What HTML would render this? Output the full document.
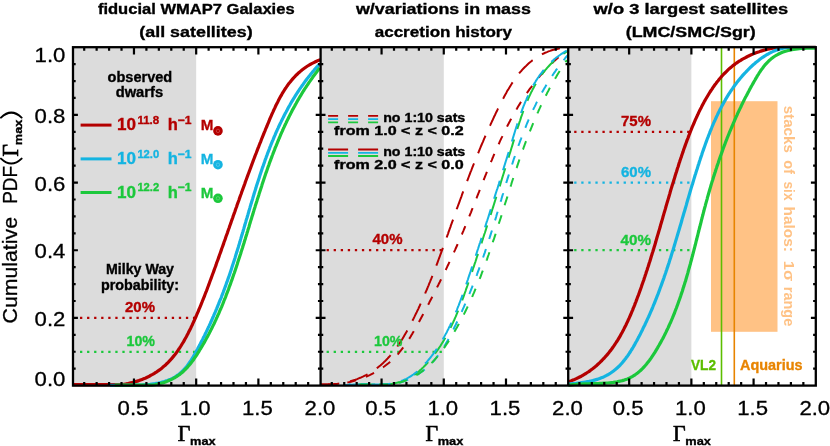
<!DOCTYPE html>
<html><head><meta charset="utf-8"><title>Cumulative PDF</title>
<style>html,body{margin:0;padding:0;background:#fff;}body{width:830px;height:446px;overflow:hidden;}svg{display:block;will-change:transform;}text{font-family:"Liberation Sans", sans-serif;}.b{font-weight:bold;}.s{font-family:"Liberation Serif", serif;}</style></head><body>
<svg width="830" height="446" viewBox="0 0 830 446">
<rect width="830" height="446" fill="#fff"/>
<defs>
<clipPath id="c0"><rect x="73.0" y="45.7" width="247.6" height="341.40000000000003"/></clipPath>
<clipPath id="c1"><rect x="320.6" y="45.7" width="247.6" height="341.40000000000003"/></clipPath>
<clipPath id="c2"><rect x="568.2" y="45.7" width="247.6" height="341.40000000000003"/></clipPath>
</defs>
<rect x="73.0" y="47.2" width="123.18" height="338.40000000000003" fill="#dcdcdc"/>
<rect x="320.6" y="47.2" width="123.18" height="338.40000000000003" fill="#dcdcdc"/>
<rect x="568.2" y="47.2" width="123.18" height="338.40000000000003" fill="#dcdcdc"/>
<rect x="711.0" y="101.2" width="66.5" height="230.60000000000002" fill="#ffc285"/>
<line x1="80.0" y1="317.9" x2="196.2" y2="317.9" stroke="#b40000" stroke-width="2.3" stroke-dasharray="2.3 4.76"/>
<line x1="80.0" y1="351.8" x2="196.2" y2="351.8" stroke="#1cc83c" stroke-width="2.3" stroke-dasharray="2.3 4.76"/>
<line x1="326.6" y1="250.2" x2="443.8" y2="250.2" stroke="#b40000" stroke-width="2.3" stroke-dasharray="2.3 4.76"/>
<line x1="326.6" y1="351.8" x2="443.8" y2="351.8" stroke="#1cc83c" stroke-width="2.3" stroke-dasharray="2.3 4.76"/>
<line x1="574.2" y1="131.8" x2="691.4" y2="131.8" stroke="#b40000" stroke-width="2.3" stroke-dasharray="2.3 4.76"/>
<line x1="574.2" y1="182.6" x2="691.4" y2="182.6" stroke="#14b4e1" stroke-width="2.3" stroke-dasharray="2.3 4.76"/>
<line x1="574.2" y1="250.2" x2="691.4" y2="250.2" stroke="#1cc83c" stroke-width="2.3" stroke-dasharray="2.3 4.76"/>
<path d="M72.8,384.7L74.5,384.7L76.2,384.7L77.9,384.7L79.6,384.7L81.4,384.7L83.1,384.7L84.9,384.7L86.6,384.7L88.4,384.7L90.2,384.7L91.9,384.7L93.7,384.7L95.5,384.7L97.3,384.7L99.1,384.7L100.9,384.7L102.7,384.7L104.4,384.7L106.2,384.7L108.0,384.7L109.8,384.7L111.6,384.7L113.4,384.7L115.1,384.7L116.9,384.7L118.7,384.7L120.4,384.7L122.1,384.6L123.9,384.3L125.6,384.0L127.3,383.7L129.0,383.3L130.7,382.9L132.4,382.5L134.0,382.1L135.7,381.6L137.3,381.1L138.9,380.6L140.5,380.0L142.1,379.4L143.6,378.8L145.2,378.2L146.7,377.5L148.2,376.8L149.7,376.0L151.1,375.2L152.6,374.4L154.0,373.6L155.4,372.7L156.8,371.8L158.1,370.9L159.5,369.9L160.8,368.9L162.1,367.9L163.3,366.8L164.6,365.8L165.8,364.7L167.0,363.5L168.2,362.4L169.3,361.2L170.5,359.9L171.6,358.7L172.6,357.4L173.7,356.1L174.8,354.8L175.8,353.5L176.8,352.1L177.8,350.7L178.7,349.3L179.7,347.9L180.6,346.5L181.5,345.0L182.4,343.5L183.3,342.1L184.2,340.6L185.0,339.0L185.9,337.5L186.7,336.0L187.5,334.4L188.3,332.9L189.1,331.3L189.9,329.7L190.7,328.2L191.4,326.6L192.2,325.0L192.9,323.4L193.6,321.8L194.4,320.2L195.1,318.6L195.8,317.0L196.5,315.4L197.2,313.7L197.9,312.1L198.6,310.5L199.2,308.9L199.9,307.3L200.6,305.7L201.2,304.1L201.9,302.4L202.5,300.8L203.2,299.2L203.8,297.6L204.5,296.0L205.1,294.3L205.7,292.7L206.4,291.1L207.0,289.5L207.6,287.8L208.2,286.2L208.8,284.6L209.4,283.0L210.0,281.3L210.6,279.7L211.2,278.1L211.8,276.5L212.4,274.8L213.0,273.2L213.6,271.6L214.2,269.9L214.8,268.3L215.4,266.7L216.0,265.1L216.5,263.4L217.1,261.8L217.7,260.2L218.3,258.6L218.9,256.9L219.4,255.3L220.0,253.7L220.6,252.1L221.2,250.4L221.7,248.8L222.3,247.2L222.9,245.6L223.5,243.9L224.0,242.3L224.6,240.7L225.2,239.1L225.7,237.5L226.3,235.8L226.9,234.2L227.5,232.6L228.0,231.0L228.6,229.3L229.2,227.7L229.7,226.1L230.3,224.5L230.9,222.9L231.4,221.2L232.0,219.6L232.6,218.0L233.1,216.4L233.7,214.8L234.3,213.1L234.9,211.5L235.4,209.9L236.0,208.3L236.6,206.7L237.1,205.0L237.7,203.4L238.3,201.8L238.9,200.2L239.4,198.6L240.0,196.9L240.6,195.3L241.2,193.7L241.7,192.1L242.3,190.5L242.9,188.9L243.5,187.2L244.1,185.6L244.7,184.0L245.2,182.4L245.8,180.8L246.4,179.2L247.0,177.5L247.6,175.9L248.2,174.3L248.8,172.7L249.4,171.1L250.0,169.5L250.6,167.9L251.2,166.2L251.8,164.6L252.4,163.0L253.0,161.4L253.6,159.8L254.2,158.2L254.8,156.6L255.4,155.0L256.1,153.3L256.7,151.7L257.3,150.1L257.9,148.5L258.6,146.9L259.2,145.3L259.8,143.7L260.5,142.1L261.1,140.5L261.7,138.8L262.4,137.2L263.0,135.6L263.7,134.0L264.3,132.4L265.0,130.8L265.6,129.2L266.3,127.6L267.0,126.0L267.6,124.4L268.3,122.8L269.0,121.2L269.6,119.5L270.3,117.9L271.0,116.3L271.7,114.7L272.4,113.1L273.1,111.6L273.8,110.0L274.6,108.4L275.3,106.8L276.0,105.3L276.8,103.7L277.6,102.2L278.4,100.6L279.2,99.1L280.0,97.6L280.8,96.1L281.7,94.6L282.5,93.1L283.4,91.7L284.3,90.2L285.2,88.8L286.2,87.4L287.1,86.0L288.1,84.6L289.1,83.3L290.2,82.0L291.2,80.7L292.3,79.4L293.4,78.1L294.6,76.9L295.7,75.7L296.9,74.5L298.1,73.3L299.4,72.2L300.7,71.1L302.0,70.0L303.3,69.0L304.7,68.0L306.1,67.0L307.6,66.0L309.1,65.1L310.6,64.2L312.2,63.4L313.8,62.6L315.4,61.8L317.1,61.0L318.8,60.3L320.6,59.7" fill="none" stroke="#b40000" stroke-width="3.2" stroke-linejoin="round" clip-path="url(#c0)"/>
<path d="M110.0,385.3L111.3,385.3L112.7,385.3L114.2,385.3L115.6,385.3L117.1,385.3L118.6,385.3L120.1,385.3L121.7,385.3L123.3,385.3L124.9,385.3L126.5,385.3L128.1,385.3L129.8,385.3L131.4,385.3L133.1,385.3L134.8,385.3L136.5,385.2L138.2,385.2L139.9,385.1L141.6,385.0L143.3,384.9L145.0,384.8L146.6,384.7L148.3,384.5L150.0,384.4L151.7,384.1L153.4,383.9L155.0,383.7L156.7,383.4L158.3,383.1L159.9,382.7L161.5,382.3L163.1,381.9L164.6,381.4L166.2,380.9L167.7,380.4L169.1,379.8L170.6,379.2L172.0,378.6L173.4,377.8L174.7,377.1L176.1,376.3L177.3,375.4L178.6,374.5L179.8,373.6L181.0,372.6L182.1,371.5L183.2,370.4L184.2,369.3L185.3,368.1L186.3,366.9L187.3,365.7L188.2,364.4L189.1,363.1L190.1,361.8L190.9,360.5L191.8,359.1L192.7,357.7L193.5,356.3L194.3,354.9L195.1,353.5L195.9,352.1L196.7,350.6L197.5,349.2L198.2,347.7L199.0,346.3L199.8,344.9L200.5,343.4L201.2,342.0L202.0,340.5L202.7,339.1L203.4,337.6L204.2,336.2L204.9,334.8L205.6,333.3L206.3,331.9L207.0,330.4L207.7,329.0L208.3,327.5L209.0,326.1L209.7,324.6L210.4,323.2L211.0,321.7L211.7,320.3L212.3,318.8L213.0,317.3L213.6,315.9L214.2,314.4L214.9,313.0L215.5,311.5L216.1,310.0L216.7,308.6L217.3,307.1L217.9,305.6L218.5,304.2L219.1,302.7L219.7,301.2L220.3,299.7L220.9,298.3L221.5,296.8L222.0,295.3L222.6,293.8L223.2,292.3L223.7,290.9L224.3,289.4L224.8,287.9L225.4,286.4L225.9,284.9L226.4,283.4L227.0,281.9L227.5,280.4L228.0,278.9L228.6,277.4L229.1,275.9L229.6,274.4L230.1,272.9L230.6,271.4L231.1,269.9L231.6,268.4L232.1,266.8L232.6,265.3L233.1,263.8L233.6,262.3L234.1,260.7L234.6,259.2L235.1,257.7L235.5,256.2L236.0,254.6L236.5,253.1L237.0,251.6L237.4,250.0L237.9,248.5L238.4,246.9L238.8,245.4L239.3,243.9L239.8,242.3L240.2,240.8L240.7,239.2L241.1,237.7L241.6,236.1L242.1,234.6L242.5,233.0L243.0,231.5L243.4,229.9L243.9,228.4L244.3,226.8L244.8,225.3L245.2,223.7L245.7,222.2L246.1,220.6L246.6,219.1L247.1,217.5L247.5,216.0L248.0,214.4L248.4,212.9L248.9,211.3L249.3,209.8L249.8,208.2L250.2,206.7L250.7,205.1L251.2,203.6L251.6,202.0L252.1,200.5L252.6,198.9L253.0,197.4L253.5,195.8L254.0,194.3L254.4,192.7L254.9,191.2L255.4,189.7L255.9,188.1L256.3,186.6L256.8,185.0L257.3,183.5L257.8,182.0L258.3,180.4L258.8,178.9L259.3,177.4L259.8,175.8L260.3,174.3L260.8,172.8L261.3,171.3L261.8,169.7L262.3,168.2L262.9,166.7L263.4,165.2L263.9,163.7L264.5,162.1L265.0,160.6L265.5,159.1L266.1,157.6L266.6,156.1L267.2,154.6L267.7,153.1L268.3,151.6L268.9,150.1L269.5,148.6L270.0,147.1L270.6,145.7L271.2,144.2L271.8,142.7L272.4,141.2L273.0,139.8L273.6,138.3L274.2,136.8L274.9,135.4L275.5,133.9L276.1,132.4L276.8,131.0L277.4,129.5L278.1,128.1L278.7,126.7L279.4,125.2L280.1,123.8L280.8,122.4L281.5,120.9L282.2,119.5L282.9,118.1L283.6,116.7L284.3,115.3L285.0,113.9L285.8,112.5L286.5,111.1L287.3,109.7L288.0,108.3L288.8,106.9L289.6,105.5L290.3,104.2L291.1,102.8L291.9,101.4L292.7,100.1L293.6,98.7L294.4,97.4L295.2,96.0L296.1,94.7L296.9,93.3L297.8,92.0L298.7,90.7L299.5,89.4L300.4,88.1L301.3,86.8L302.2,85.5L303.2,84.2L304.1,82.9L305.0,81.6L306.0,80.3L306.9,79.0L307.9,77.8L308.9,76.5L309.9,75.3L310.9,74.0L311.9,72.8L312.9,71.5L314.0,70.3L315.0,69.1L316.1,67.9L317.2,66.7L318.2,65.5L319.3,64.3" fill="none" stroke="#14b4e1" stroke-width="3.2" stroke-linejoin="round" clip-path="url(#c0)"/>
<path d="M114.8,385.1L116.4,385.1L118.0,385.1L119.5,385.1L121.1,385.1L122.7,385.1L124.3,385.1L125.9,385.1L127.5,385.1L129.2,385.1L130.8,385.1L132.4,385.1L134.0,385.1L135.7,385.1L137.3,385.1L138.9,385.1L140.5,385.1L142.2,385.1L143.8,385.1L145.4,385.1L147.0,385.1L148.6,385.1L150.2,385.1L151.8,385.1L153.3,385.0L154.9,384.7L156.5,384.4L158.0,384.1L159.5,383.7L161.0,383.3L162.5,382.9L164.0,382.4L165.5,381.9L166.9,381.4L168.3,380.8L169.7,380.2L171.1,379.6L172.5,378.9L173.8,378.2L175.1,377.5L176.4,376.7L177.6,375.8L178.9,375.0L180.1,374.1L181.2,373.1L182.4,372.2L183.5,371.2L184.6,370.1L185.7,369.0L186.8,367.9L187.8,366.8L188.8,365.6L189.8,364.5L190.8,363.2L191.7,362.0L192.7,360.8L193.6,359.5L194.5,358.2L195.4,356.9L196.3,355.6L197.1,354.3L198.0,352.9L198.8,351.6L199.6,350.2L200.5,348.9L201.3,347.5L202.1,346.2L202.9,344.8L203.7,343.4L204.5,342.1L205.2,340.7L206.0,339.3L206.7,337.9L207.5,336.6L208.2,335.2L209.0,333.8L209.7,332.4L210.4,331.0L211.1,329.6L211.8,328.2L212.5,326.8L213.2,325.4L213.9,324.0L214.6,322.5L215.2,321.1L215.9,319.7L216.5,318.3L217.2,316.9L217.8,315.4L218.5,314.0L219.1,312.6L219.7,311.1L220.3,309.7L221.0,308.2L221.6,306.8L222.2,305.3L222.8,303.9L223.4,302.4L223.9,301.0L224.5,299.5L225.1,298.1L225.7,296.6L226.2,295.2L226.8,293.7L227.4,292.2L227.9,290.8L228.5,289.3L229.0,287.8L229.5,286.3L230.1,284.9L230.6,283.4L231.1,281.9L231.7,280.4L232.2,278.9L232.7,277.5L233.2,276.0L233.7,274.5L234.3,273.0L234.8,271.5L235.3,270.0L235.8,268.5L236.3,267.0L236.8,265.5L237.3,264.0L237.7,262.5L238.2,261.0L238.7,259.5L239.2,258.0L239.7,256.5L240.2,255.0L240.7,253.5L241.1,252.0L241.6,250.5L242.1,249.0L242.6,247.5L243.0,246.0L243.5,244.5L244.0,243.0L244.4,241.5L244.9,240.0L245.4,238.4L245.8,236.9L246.3,235.4L246.8,233.9L247.2,232.4L247.7,230.9L248.1,229.4L248.6,227.9L249.1,226.4L249.5,224.8L250.0,223.3L250.4,221.8L250.9,220.3L251.4,218.8L251.8,217.3L252.3,215.8L252.8,214.3L253.2,212.8L253.7,211.2L254.1,209.7L254.6,208.2L255.1,206.7L255.5,205.2L256.0,203.7L256.5,202.2L257.0,200.7L257.4,199.2L257.9,197.7L258.4,196.2L258.9,194.7L259.3,193.2L259.8,191.7L260.3,190.2L260.8,188.7L261.3,187.2L261.8,185.7L262.2,184.2L262.7,182.7L263.2,181.2L263.7,179.7L264.2,178.2L264.7,176.7L265.2,175.2L265.7,173.7L266.3,172.2L266.8,170.7L267.3,169.3L267.8,167.8L268.3,166.3L268.9,164.8L269.4,163.3L269.9,161.9L270.5,160.4L271.0,158.9L271.6,157.5L272.1,156.0L272.7,154.5L273.2,153.1L273.8,151.6L274.4,150.1L274.9,148.7L275.5,147.2L276.1,145.8L276.7,144.3L277.3,142.9L277.9,141.4L278.5,140.0L279.1,138.5L279.7,137.1L280.3,135.7L280.9,134.2L281.5,132.8L282.2,131.4L282.8,130.0L283.4,128.5L284.1,127.1L284.7,125.7L285.4,124.3L286.1,122.9L286.7,121.5L287.4,120.1L288.1,118.7L288.8,117.3L289.5,115.9L290.2,114.5L290.9,113.1L291.6,111.7L292.3,110.3L293.1,108.9L293.8,107.6L294.6,106.2L295.3,104.8L296.1,103.5L296.8,102.1L297.6,100.7L298.4,99.4L299.2,98.0L300.0,96.7L300.8,95.4L301.6,94.0L302.4,92.7L303.2,91.3L304.1,90.0L304.9,88.7L305.8,87.4L306.6,86.1L307.5,84.8L308.4,83.5L309.3,82.1L310.2,80.9L311.1,79.6L312.0,78.3L312.9,77.0L313.8,75.7L314.8,74.4L315.7,73.2L316.7,71.9L317.7,70.6L318.6,69.4L319.6,68.1" fill="none" stroke="#1cc83c" stroke-width="3.2" stroke-linejoin="round" clip-path="url(#c0)"/>
<path d="M319.6,384.3L321.6,384.3L323.5,384.3L325.4,384.3L327.2,384.3L329.1,384.3L331.0,384.3L332.8,384.3L334.7,384.1L336.5,384.0L338.3,383.7L340.1,383.5L341.8,383.2L343.6,382.9L345.3,382.5L347.1,382.1L348.8,381.7L350.5,381.2L352.1,380.7L353.8,380.2L355.4,379.7L357.1,379.1L358.7,378.4L360.3,377.8L361.8,377.1L363.4,376.4L364.9,375.6L366.4,374.9L367.9,374.1L369.4,373.2L370.8,372.4L372.2,371.5L373.6,370.5L375.0,369.6L376.4,368.6L377.7,367.6L379.0,366.5L380.3,365.5L381.5,364.4L382.8,363.3L384.0,362.1L385.2,361.0L386.4,359.8L387.5,358.6L388.7,357.3L389.8,356.1L390.9,354.8L392.0,353.5L393.0,352.2L394.1,350.9L395.1,349.5L396.1,348.2L397.1,346.8L398.1,345.4L399.0,344.0L400.0,342.6L400.9,341.1L401.9,339.7L402.8,338.2L403.7,336.7L404.5,335.3L405.4,333.8L406.3,332.3L407.1,330.8L408.0,329.2L408.8,327.7L409.6,326.2L410.4,324.7L411.2,323.1L412.0,321.6L412.8,320.0L413.6,318.5L414.4,316.9L415.1,315.4L415.9,313.8L416.7,312.2L417.4,310.7L418.2,309.1L418.9,307.5L419.6,306.0L420.3,304.4L421.1,302.8L421.8,301.2L422.5,299.7L423.2,298.1L423.9,296.5L424.6,294.9L425.2,293.3L425.9,291.7L426.6,290.1L427.3,288.5L427.9,286.9L428.6,285.3L429.2,283.7L429.9,282.1L430.5,280.5L431.2,278.9L431.8,277.3L432.5,275.7L433.1,274.1L433.7,272.5L434.4,270.9L435.0,269.2L435.6,267.6L436.2,266.0L436.8,264.4L437.4,262.8L438.0,261.2L438.6,259.5L439.2,257.9L439.8,256.3L440.4,254.7L441.0,253.1L441.6,251.4L442.2,249.8L442.8,248.2L443.4,246.6L444.0,244.9L444.6,243.3L445.2,241.7L445.7,240.1L446.3,238.4L446.9,236.8L447.5,235.2L448.1,233.6L448.6,231.9L449.2,230.3L449.8,228.7L450.4,227.1L450.9,225.4L451.5,223.8L452.1,222.2L452.7,220.6L453.3,218.9L453.8,217.3L454.4,215.7L455.0,214.1L455.6,212.5L456.2,210.8L456.7,209.2L457.3,207.6L457.9,206.0L458.5,204.4L459.1,202.8L459.7,201.1L460.3,199.5L460.9,197.9L461.5,196.3L462.0,194.7L462.6,193.1L463.2,191.5L463.8,189.8L464.4,188.2L465.0,186.6L465.6,185.0L466.2,183.4L466.9,181.8L467.5,180.2L468.1,178.6L468.7,177.0L469.3,175.4L469.9,173.8L470.5,172.2L471.2,170.6L471.8,169.0L472.4,167.4L473.0,165.8L473.7,164.2L474.3,162.6L475.0,161.0L475.6,159.4L476.2,157.8L476.9,156.2L477.5,154.6L478.2,153.0L478.9,151.4L479.5,149.8L480.2,148.2L480.8,146.6L481.5,145.0L482.2,143.4L482.9,141.8L483.5,140.3L484.2,138.7L484.9,137.1L485.6,135.5L486.3,133.9L487.0,132.3L487.7,130.7L488.4,129.2L489.1,127.6L489.8,126.0L490.6,124.4L491.3,122.8L492.0,121.3L492.8,119.7L493.5,118.1L494.2,116.5L495.0,115.0L495.7,113.4L496.5,111.8L497.3,110.2L498.0,108.7L498.8,107.1L499.6,105.5L500.4,104.0L501.1,102.4L501.9,100.9L502.8,99.3L503.6,97.8L504.4,96.2L505.2,94.7L506.1,93.2L506.9,91.6L507.8,90.1L508.7,88.7L509.6,87.2L510.5,85.7L511.4,84.3L512.3,82.8L513.3,81.4L514.2,80.0L515.2,78.6L516.2,77.2L517.2,75.9L518.3,74.5L519.3,73.2L520.4,71.9L521.5,70.7L522.6,69.4L523.7,68.2L524.9,67.0L526.1,65.9L527.3,64.7L528.5,63.6L529.7,62.5L531.0,61.5L532.3,60.4L533.6,59.5L535.0,58.5L536.4,57.6L537.8,56.7L539.2,55.8L540.7,55.0L542.2,54.2L543.7,53.5L545.3,52.7L546.9,52.1L548.5,51.4L550.1,50.9L551.8,50.3L553.5,49.8L555.3,49.3L557.1,48.9L558.9,48.5L560.8,48.2L562.7,47.9L564.6,47.7L566.6,47.5L568.6,47.4" fill="none" stroke="#b40000" stroke-width="2.0" stroke-linejoin="round" stroke-dasharray="19 11" stroke-dashoffset="29.3" clip-path="url(#c1)"/>
<path d="M320.1,384.6L321.9,384.6L323.6,384.6L325.3,384.6L327.1,384.6L328.8,384.6L330.5,384.6L332.2,384.6L334.0,384.4L335.7,384.3L337.4,384.1L339.1,383.9L340.8,383.7L342.5,383.4L344.2,383.1L345.9,382.8L347.6,382.5L349.3,382.1L350.9,381.7L352.6,381.3L354.3,380.8L355.9,380.3L357.5,379.8L359.1,379.3L360.7,378.7L362.3,378.2L363.9,377.5L365.5,376.9L367.0,376.3L368.6,375.6L370.1,374.9L371.6,374.1L373.1,373.3L374.6,372.6L376.1,371.7L377.5,370.9L378.9,370.0L380.4,369.1L381.7,368.2L383.1,367.3L384.5,366.3L385.8,365.3L387.1,364.3L388.4,363.3L389.7,362.2L390.9,361.1L392.1,360.0L393.3,358.8L394.5,357.7L395.6,356.5L396.8,355.3L397.9,354.1L399.0,352.8L400.0,351.5L401.1,350.2L402.1,348.9L403.1,347.6L404.1,346.3L405.1,344.9L406.1,343.5L407.0,342.2L407.9,340.8L408.9,339.3L409.8,337.9L410.7,336.5L411.5,335.0L412.4,333.6L413.3,332.1L414.1,330.7L415.0,329.2L415.8,327.7L416.6,326.2L417.5,324.7L418.3,323.2L419.1,321.7L419.9,320.2L420.7,318.7L421.5,317.2L422.3,315.7L423.1,314.3L423.9,312.8L424.7,311.3L425.5,309.8L426.3,308.3L427.1,306.8L427.9,305.3L428.7,303.8L429.4,302.3L430.2,300.8L431.0,299.3L431.8,297.8L432.5,296.3L433.3,294.8L434.1,293.3L434.8,291.8L435.6,290.3L436.4,288.8L437.1,287.3L437.9,285.8L438.6,284.3L439.4,282.8L440.1,281.3L440.9,279.8L441.6,278.3L442.3,276.8L443.1,275.3L443.8,273.8L444.5,272.3L445.3,270.8L446.0,269.3L446.7,267.8L447.4,266.3L448.2,264.8L448.9,263.2L449.6,261.7L450.3,260.2L451.0,258.7L451.7,257.2L452.4,255.7L453.1,254.1L453.8,252.6L454.5,251.1L455.2,249.6L455.9,248.0L456.6,246.5L457.3,245.0L457.9,243.4L458.6,241.9L459.3,240.4L460.0,238.8L460.6,237.3L461.3,235.7L462.0,234.2L462.6,232.6L463.3,231.1L463.9,229.5L464.6,228.0L465.2,226.4L465.9,224.8L466.5,223.3L467.2,221.7L467.8,220.2L468.4,218.6L469.1,217.0L469.7,215.4L470.3,213.9L471.0,212.3L471.6,210.7L472.2,209.1L472.9,207.5L473.5,206.0L474.1,204.4L474.7,202.8L475.3,201.2L476.0,199.6L476.6,198.0L477.2,196.4L477.8,194.9L478.4,193.3L479.1,191.7L479.7,190.1L480.3,188.5L480.9,186.9L481.6,185.3L482.2,183.7L482.8,182.2L483.4,180.6L484.1,179.0L484.7,177.4L485.3,175.8L486.0,174.2L486.6,172.7L487.2,171.1L487.9,169.5L488.5,167.9L489.2,166.4L489.8,164.8L490.5,163.2L491.1,161.6L491.8,160.1L492.4,158.5L493.1,156.9L493.7,155.4L494.4,153.8L495.1,152.3L495.8,150.7L496.4,149.2L497.1,147.6L497.8,146.1L498.5,144.5L499.2,143.0L499.9,141.4L500.6,139.9L501.3,138.4L502.1,136.9L502.8,135.3L503.5,133.8L504.2,132.3L505.0,130.8L505.7,129.3L506.5,127.8L507.2,126.3L508.0,124.8L508.8,123.3L509.6,121.8L510.3,120.3L511.1,118.9L511.9,117.4L512.7,115.9L513.5,114.5L514.4,113.0L515.2,111.6L516.0,110.1L516.9,108.7L517.7,107.3L518.6,105.8L519.5,104.4L520.3,103.0L521.2,101.6L522.1,100.2L523.0,98.8L523.9,97.4L524.8,96.0L525.8,94.7L526.7,93.3L527.7,91.9L528.6,90.6L529.6,89.2L530.6,87.9L531.6,86.6L532.6,85.2L533.6,83.9L534.6,82.6L535.6,81.3L536.7,80.0L537.7,78.7L538.8,77.5L539.8,76.2L540.9,74.9L542.0,73.7L543.1,72.4L544.3,71.2L545.4,70.0L546.5,68.8L547.7,67.5L548.9,66.3L550.1,65.2L551.2,64.0L552.5,62.8L553.7,61.6L554.9,60.5L556.2,59.3L557.4,58.2L558.7,57.1L560.0,56.0L561.3,54.9L562.6,53.8L563.9,52.7L565.3,51.6L566.6,50.5" fill="none" stroke="#b40000" stroke-width="2.0" stroke-linejoin="round" stroke-dasharray="9 10.5" stroke-dashoffset="11.6" clip-path="url(#c1)"/>
<path d="M346.1,385.3L347.6,385.1L349.1,385.0L350.7,384.8L352.3,384.7L353.9,384.7L355.5,384.6L357.2,384.6L358.8,384.6L360.5,384.6L362.2,384.6L364.0,384.6L365.7,384.6L367.5,384.6L369.2,384.6L371.0,384.6L372.8,384.6L374.5,384.6L376.3,384.6L378.1,384.6L379.9,384.6L381.6,384.6L383.4,384.5L385.1,384.4L386.9,384.3L388.6,384.1L390.4,383.9L392.1,383.7L393.8,383.4L395.4,383.1L397.1,382.7L398.7,382.3L400.3,381.9L401.9,381.4L403.5,380.8L405.0,380.2L406.5,379.5L408.0,378.8L409.4,378.0L410.8,377.2L412.2,376.3L413.6,375.4L414.9,374.5L416.2,373.5L417.5,372.5L418.8,371.4L420.0,370.3L421.3,369.2L422.5,368.1L423.7,366.9L424.8,365.7L426.0,364.5L427.1,363.3L428.2,362.1L429.3,360.8L430.4,359.5L431.4,358.3L432.5,357.0L433.5,355.7L434.5,354.3L435.5,353.0L436.5,351.7L437.4,350.3L438.4,348.9L439.3,347.5L440.2,346.2L441.1,344.7L442.0,343.3L442.9,341.9L443.7,340.5L444.6,339.0L445.4,337.6L446.2,336.1L447.0,334.6L447.8,333.2L448.6,331.7L449.3,330.2L450.1,328.7L450.8,327.2L451.6,325.6L452.3,324.1L453.0,322.6L453.7,321.0L454.4,319.5L455.1,317.9L455.8,316.4L456.4,314.8L457.1,313.2L457.7,311.7L458.4,310.1L459.0,308.5L459.6,306.9L460.3,305.3L460.9,303.7L461.5,302.1L462.1,300.5L462.7,298.9L463.3,297.3L463.9,295.7L464.4,294.1L465.0,292.5L465.6,290.8L466.1,289.2L466.7,287.6L467.3,286.0L467.8,284.4L468.4,282.7L468.9,281.1L469.5,279.5L470.0,277.9L470.5,276.3L471.1,274.7L471.6,273.0L472.2,271.4L472.7,269.8L473.2,268.2L473.8,266.6L474.3,265.0L474.8,263.4L475.4,261.8L475.9,260.2L476.4,258.6L476.9,257.0L477.5,255.4L478.0,253.8L478.5,252.2L479.0,250.6L479.6,249.0L480.1,247.4L480.6,245.8L481.1,244.2L481.7,242.6L482.2,241.0L482.7,239.4L483.2,237.8L483.7,236.2L484.2,234.6L484.8,233.0L485.3,231.5L485.8,229.9L486.3,228.3L486.8,226.7L487.3,225.1L487.8,223.5L488.3,221.9L488.9,220.3L489.4,218.8L489.9,217.2L490.4,215.6L490.9,214.0L491.4,212.4L491.9,210.8L492.4,209.2L492.9,207.6L493.4,206.1L493.9,204.5L494.4,202.9L494.9,201.3L495.4,199.7L495.9,198.1L496.4,196.5L496.9,194.9L497.4,193.3L497.9,191.7L498.4,190.2L499.0,188.6L499.5,187.0L500.0,185.4L500.5,183.8L500.9,182.2L501.4,180.6L501.9,179.0L502.4,177.4L502.9,175.8L503.4,174.2L503.9,172.6L504.4,171.0L504.9,169.4L505.4,167.7L505.9,166.1L506.4,164.5L506.9,162.9L507.4,161.3L507.9,159.7L508.4,158.1L508.9,156.5L509.4,154.8L509.9,153.2L510.4,151.6L510.9,150.0L511.4,148.3L511.9,146.7L512.4,145.1L512.9,143.4L513.4,141.8L513.9,140.2L514.4,138.5L514.9,136.9L515.4,135.2L515.9,133.6L516.4,132.0L516.9,130.3L517.4,128.7L517.9,127.0L518.5,125.4L519.0,123.8L519.5,122.1L520.1,120.5L520.6,118.9L521.1,117.2L521.7,115.6L522.3,114.0L522.8,112.4L523.4,110.8L524.0,109.2L524.6,107.6L525.2,106.0L525.9,104.4L526.5,102.9L527.1,101.3L527.8,99.8L528.5,98.2L529.2,96.7L529.9,95.2L530.6,93.6L531.3,92.1L532.1,90.7L532.8,89.2L533.6,87.7L534.4,86.3L535.2,84.8L536.0,83.4L536.9,82.0L537.7,80.6L538.6,79.2L539.5,77.8L540.5,76.5L541.4,75.1L542.4,73.8L543.4,72.5L544.4,71.2L545.4,69.9L546.5,68.7L547.6,67.4L548.7,66.2L549.8,65.0L551.0,63.8L552.1,62.7L553.3,61.6L554.6,60.4L555.8,59.3L557.1,58.3L558.4,57.2L559.8,56.2L561.2,55.2L562.6,54.2L564.0,53.3L565.5,52.3L567.0,51.4L568.5,50.6" fill="none" stroke="#1cc83c" stroke-width="2.0" stroke-linejoin="round" stroke-dasharray="19 11" stroke-dashoffset="19.9" clip-path="url(#c1)"/>
<path d="M344.5,385.3L346.0,385.1L347.5,385.0L349.1,384.8L350.7,384.7L352.3,384.7L353.9,384.6L355.6,384.6L357.2,384.6L358.9,384.6L360.6,384.6L362.4,384.6L364.1,384.6L365.9,384.6L367.6,384.6L369.4,384.6L371.2,384.6L372.9,384.6L374.7,384.6L376.5,384.6L378.3,384.6L380.0,384.6L381.8,384.5L383.5,384.4L385.3,384.3L387.0,384.1L388.8,383.9L390.5,383.7L392.2,383.4L393.8,383.1L395.5,382.7L397.1,382.3L398.7,381.9L400.3,381.4L401.9,380.8L403.4,380.2L404.9,379.5L406.4,378.8L407.8,378.0L409.2,377.2L410.6,376.3L412.0,375.4L413.3,374.5L414.6,373.5L415.9,372.5L417.2,371.4L418.4,370.3L419.7,369.2L420.9,368.1L422.1,366.9L423.2,365.7L424.4,364.5L425.5,363.3L426.6,362.1L427.7,360.8L428.8,359.5L429.8,358.3L430.9,357.0L431.9,355.7L432.9,354.3L433.9,353.0L434.9,351.7L435.8,350.3L436.8,348.9L437.7,347.5L438.6,346.2L439.5,344.7L440.4,343.3L441.3,341.9L442.1,340.5L443.0,339.0L443.8,337.6L444.6,336.1L445.4,334.6L446.2,333.2L447.0,331.7L447.7,330.2L448.5,328.7L449.2,327.2L450.0,325.6L450.7,324.1L451.4,322.6L452.1,321.0L452.8,319.5L453.5,317.9L454.2,316.4L454.8,314.8L455.5,313.2L456.1,311.7L456.8,310.1L457.4,308.5L458.0,306.9L458.7,305.3L459.3,303.7L459.9,302.1L460.5,300.5L461.1,298.9L461.7,297.3L462.3,295.7L462.8,294.1L463.4,292.5L464.0,290.8L464.5,289.2L465.1,287.6L465.7,286.0L466.2,284.4L466.8,282.7L467.3,281.1L467.9,279.5L468.4,277.9L468.9,276.3L469.5,274.7L470.0,273.0L470.6,271.4L471.1,269.8L471.6,268.2L472.2,266.6L472.7,265.0L473.2,263.4L473.8,261.8L474.3,260.2L474.8,258.6L475.3,257.0L475.9,255.4L476.4,253.8L476.9,252.2L477.4,250.6L478.0,249.0L478.5,247.4L479.0,245.8L479.5,244.2L480.1,242.6L480.6,241.0L481.1,239.4L481.6,237.8L482.1,236.2L482.6,234.6L483.2,233.0L483.7,231.5L484.2,229.9L484.7,228.3L485.2,226.7L485.7,225.1L486.2,223.5L486.7,221.9L487.3,220.3L487.8,218.8L488.3,217.2L488.8,215.6L489.3,214.0L489.8,212.4L490.3,210.8L490.8,209.2L491.3,207.6L491.8,206.1L492.3,204.5L492.8,202.9L493.3,201.3L493.8,199.7L494.3,198.1L494.8,196.5L495.3,194.9L495.8,193.3L496.3,191.7L496.8,190.2L497.4,188.6L497.9,187.0L498.4,185.4L498.9,183.8L499.3,182.2L499.8,180.6L500.3,179.0L500.8,177.4L501.3,175.8L501.8,174.2L502.3,172.6L502.8,171.0L503.3,169.4L503.8,167.7L504.3,166.1L504.8,164.5L505.3,162.9L505.8,161.3L506.3,159.7L506.8,158.1L507.3,156.5L507.8,154.8L508.3,153.2L508.8,151.6L509.3,150.0L509.8,148.3L510.3,146.7L510.8,145.1L511.3,143.4L511.8,141.8L512.3,140.2L512.8,138.5L513.3,136.9L513.8,135.2L514.3,133.6L514.8,132.0L515.3,130.3L515.8,128.7L516.3,127.0L516.9,125.4L517.4,123.8L517.9,122.1L518.5,120.5L519.0,118.9L519.5,117.2L520.1,115.6L520.7,114.0L521.2,112.4L521.8,110.8L522.4,109.2L523.0,107.6L523.6,106.0L524.3,104.4L524.9,102.9L525.5,101.3L526.2,99.8L526.9,98.2L527.6,96.7L528.3,95.2L529.0,93.6L529.7,92.1L530.5,90.7L531.2,89.2L532.0,87.7L532.8,86.3L533.6,84.8L534.4,83.4L535.3,82.0L536.1,80.6L537.0,79.2L537.9,77.8L538.9,76.5L539.8,75.1L540.8,73.8L541.8,72.5L542.8,71.2L543.8,69.9L544.9,68.7L546.0,67.4L547.1,66.2L548.2,65.0L549.4,63.8L550.5,62.7L551.7,61.6L553.0,60.4L554.2,59.3L555.5,58.3L556.8,57.2L558.2,56.2L559.6,55.2L561.0,54.2L562.4,53.3L563.9,52.3L565.4,51.4L566.9,50.6" fill="none" stroke="#14b4e1" stroke-width="2.0" stroke-linejoin="round" stroke-dasharray="19 11" stroke-dashoffset="3.0" clip-path="url(#c1)"/>
<path d="M349.2,383.9L351.0,383.9L352.8,383.9L354.6,383.9L356.4,383.9L358.2,383.9L359.9,383.9L361.7,383.9L363.5,383.9L365.2,383.9L367.0,383.9L368.7,383.9L370.5,383.9L372.2,383.9L374.0,383.9L375.7,383.9L377.4,383.9L379.1,383.9L380.8,383.9L382.5,383.9L384.1,383.9L385.8,383.9L387.4,383.9L389.1,383.9L390.7,383.9L392.3,383.9L393.9,383.9L395.5,383.9L397.1,383.4L398.7,383.0L400.2,382.5L401.8,382.0L403.3,381.5L404.8,380.9L406.3,380.3L407.8,379.7L409.2,379.1L410.7,378.4L412.1,377.7L413.5,376.9L414.9,376.2L416.2,375.4L417.6,374.6L418.9,373.7L420.2,372.8L421.5,371.9L422.8,371.0L424.0,370.0L425.3,369.1L426.5,368.0L427.7,367.0L428.8,365.9L430.0,364.8L431.1,363.7L432.2,362.6L433.2,361.4L434.3,360.2L435.3,359.0L436.3,357.7L437.3,356.5L438.3,355.2L439.3,353.9L440.2,352.5L441.1,351.2L442.0,349.8L442.9,348.5L443.8,347.1L444.7,345.7L445.5,344.2L446.3,342.8L447.2,341.4L448.0,339.9L448.8,338.5L449.6,337.0L450.3,335.5L451.1,334.0L451.9,332.5L452.6,331.0L453.4,329.5L454.1,328.0L454.8,326.5L455.6,325.0L456.3,323.5L457.0,322.0L457.7,320.5L458.4,319.0L459.1,317.5L459.8,316.0L460.5,314.5L461.2,313.0L461.9,311.5L462.5,309.9L463.2,308.4L463.9,306.9L464.5,305.4L465.2,303.9L465.9,302.4L466.5,300.8L467.1,299.3L467.8,297.8L468.4,296.3L469.0,294.7L469.7,293.2L470.3,291.7L470.9,290.2L471.5,288.6L472.1,287.1L472.7,285.6L473.3,284.0L473.9,282.5L474.5,281.0L475.1,279.4L475.7,277.9L476.3,276.4L476.9,274.8L477.4,273.3L478.0,271.7L478.6,270.2L479.1,268.7L479.7,267.1L480.2,265.6L480.8,264.0L481.3,262.5L481.9,260.9L482.4,259.4L483.0,257.8L483.5,256.3L484.0,254.7L484.6,253.1L485.1,251.6L485.6,250.0L486.1,248.5L486.7,246.9L487.2,245.4L487.7,243.8L488.2,242.2L488.7,240.7L489.2,239.1L489.7,237.5L490.2,235.9L490.7,234.4L491.2,232.8L491.7,231.2L492.2,229.7L492.7,228.1L493.2,226.5L493.7,224.9L494.1,223.3L494.6,221.8L495.1,220.2L495.6,218.6L496.1,217.0L496.5,215.4L497.0,213.8L497.5,212.3L498.0,210.7L498.4,209.1L498.9,207.5L499.4,205.9L499.9,204.3L500.3,202.7L500.8,201.1L501.3,199.6L501.7,198.0L502.2,196.4L502.7,194.8L503.2,193.2L503.6,191.6L504.1,190.0L504.6,188.4L505.1,186.9L505.6,185.3L506.0,183.7L506.5,182.1L507.0,180.5L507.5,178.9L508.0,177.4L508.5,175.8L509.0,174.2L509.5,172.6L510.0,171.0L510.5,169.5L511.0,167.9L511.5,166.3L512.0,164.7L512.5,163.2L513.0,161.6L513.5,160.0L514.0,158.5L514.6,156.9L515.1,155.3L515.6,153.8L516.2,152.2L516.7,150.7L517.2,149.1L517.8,147.6L518.3,146.0L518.9,144.5L519.5,142.9L520.0,141.4L520.6,139.8L521.2,138.3L521.7,136.7L522.3,135.2L522.9,133.7L523.5,132.2L524.1,130.6L524.7,129.1L525.4,127.6L526.0,126.1L526.6,124.5L527.2,123.0L527.9,121.5L528.5,120.0L529.2,118.5L529.8,117.0L530.5,115.5L531.2,114.0L531.9,112.6L532.5,111.1L533.2,109.6L533.9,108.1L534.7,106.6L535.4,105.2L536.1,103.7L536.8,102.2L537.6,100.8L538.3,99.3L539.1,97.9L539.9,96.4L540.6,95.0L541.4,93.6L542.2,92.1L543.0,90.7L543.8,89.3L544.6,87.9L545.5,86.5L546.3,85.1L547.2,83.7L548.0,82.3L548.9,80.9L549.8,79.5L550.7,78.1L551.6,76.7L552.5,75.4L553.4,74.0L554.3,72.6L555.3,71.3L556.2,69.9L557.2,68.6L558.2,67.2L559.1,65.9L560.1,64.6L561.2,63.3L562.2,61.9L563.2,60.6L564.3,59.3L565.3,58.0L566.4,56.7L567.5,55.5" fill="none" stroke="#14b4e1" stroke-width="2.0" stroke-linejoin="round" stroke-dasharray="9 10.5" stroke-dashoffset="7.8" clip-path="url(#c1)"/>
<path d="M354.3,384.4L356.1,384.4L357.8,384.4L359.5,384.4L361.3,384.4L363.0,384.4L364.7,384.4L366.5,384.4L368.2,384.4L369.9,384.4L371.6,384.4L373.3,384.4L375.0,384.4L376.6,384.4L378.3,384.4L380.0,384.4L381.6,384.4L383.3,384.4L384.9,384.4L386.5,384.4L388.2,384.4L389.8,384.4L391.4,384.4L392.9,384.3L394.5,384.0L396.1,383.6L397.6,383.2L399.1,382.7L400.6,382.3L402.1,381.8L403.6,381.2L405.1,380.7L406.6,380.1L408.0,379.5L409.4,378.8L410.8,378.2L412.2,377.5L413.6,376.7L415.0,376.0L416.3,375.2L417.6,374.4L418.9,373.6L420.2,372.7L421.5,371.8L422.7,370.9L423.9,369.9L425.1,368.9L426.3,367.9L427.5,366.9L428.6,365.9L429.8,364.8L430.9,363.7L432.0,362.6L433.1,361.5L434.2,360.3L435.2,359.1L436.3,357.9L437.3,356.7L438.3,355.5L439.3,354.3L440.3,353.0L441.2,351.8L442.2,350.5L443.2,349.2L444.1,347.9L445.0,346.6L445.9,345.2L446.8,343.9L447.7,342.6L448.6,341.2L449.5,339.8L450.3,338.5L451.2,337.1L452.0,335.7L452.9,334.3L453.7,333.0L454.5,331.6L455.3,330.2L456.1,328.8L456.9,327.4L457.7,326.0L458.5,324.6L459.3,323.1L460.0,321.7L460.8,320.3L461.6,318.9L462.3,317.4L463.0,316.0L463.8,314.6L464.5,313.1L465.2,311.7L465.9,310.3L466.6,308.8L467.3,307.4L468.0,305.9L468.7,304.4L469.4,303.0L470.1,301.5L470.7,300.1L471.4,298.6L472.1,297.1L472.7,295.6L473.3,294.2L474.0,292.7L474.6,291.2L475.2,289.7L475.9,288.2L476.5,286.7L477.1,285.2L477.7,283.8L478.3,282.3L478.9,280.8L479.5,279.3L480.1,277.8L480.7,276.3L481.3,274.7L481.8,273.2L482.4,271.7L483.0,270.2L483.5,268.7L484.1,267.2L484.7,265.7L485.2,264.2L485.8,262.6L486.3,261.1L486.9,259.6L487.4,258.1L487.9,256.5L488.5,255.0L489.0,253.5L489.5,252.0L490.1,250.4L490.6,248.9L491.1,247.4L491.6,245.8L492.1,244.3L492.6,242.8L493.1,241.2L493.7,239.7L494.2,238.2L494.7,236.6L495.2,235.1L495.7,233.6L496.2,232.0L496.7,230.5L497.2,228.9L497.6,227.4L498.1,225.9L498.6,224.3L499.1,222.8L499.6,221.2L500.1,219.7L500.6,218.2L501.1,216.6L501.6,215.1L502.0,213.5L502.5,212.0L503.0,210.5L503.5,208.9L504.0,207.4L504.5,205.8L504.9,204.3L505.4,202.8L505.9,201.2L506.4,199.7L506.9,198.1L507.4,196.6L507.8,195.1L508.3,193.5L508.8,192.0L509.3,190.4L509.8,188.9L510.3,187.4L510.8,185.8L511.3,184.3L511.7,182.8L512.2,181.2L512.7,179.7L513.2,178.2L513.7,176.6L514.2,175.1L514.7,173.6L515.2,172.0L515.7,170.5L516.2,169.0L516.8,167.5L517.3,165.9L517.8,164.4L518.3,162.9L518.8,161.4L519.3,159.9L519.9,158.3L520.4,156.8L520.9,155.3L521.5,153.8L522.0,152.3L522.5,150.8L523.1,149.3L523.6,147.7L524.2,146.2L524.7,144.7L525.3,143.2L525.8,141.7L526.4,140.2L527.0,138.7L527.5,137.2L528.1,135.7L528.7,134.2L529.3,132.8L529.9,131.3L530.5,129.8L531.1,128.3L531.7,126.8L532.3,125.3L532.9,123.8L533.5,122.4L534.1,120.9L534.7,119.4L535.4,118.0L536.0,116.5L536.7,115.0L537.3,113.6L538.0,112.1L538.6,110.6L539.3,109.2L540.0,107.7L540.6,106.3L541.3,104.8L542.0,103.4L542.7,101.9L543.4,100.5L544.1,99.1L544.8,97.6L545.5,96.2L546.3,94.8L547.0,93.3L547.7,91.9L548.5,90.5L549.2,89.1L550.0,87.7L550.8,86.3L551.6,84.8L552.3,83.4L553.1,82.0L553.9,80.6L554.7,79.2L555.5,77.9L556.4,76.5L557.2,75.1L558.0,73.7L558.9,72.3L559.7,70.9L560.6,69.6L561.5,68.2L562.4,66.8L563.2,65.5L564.1,64.1L565.0,62.8L566.0,61.4L566.9,60.1" fill="none" stroke="#1cc83c" stroke-width="2.0" stroke-linejoin="round" stroke-dasharray="9 10.5" stroke-dashoffset="14.2" clip-path="url(#c1)"/>
<line x1="721.5" y1="47.2" x2="721.5" y2="385.6" stroke="#5cbe00" stroke-width="1.6"/>
<line x1="734.3" y1="47.2" x2="734.3" y2="385.6" stroke="#e88400" stroke-width="1.6"/>
<path d="M567.8,382.1L569.5,381.4L571.3,380.8L573.0,380.1L574.7,379.4L576.4,378.6L578.1,377.8L579.7,377.0L581.3,376.2L582.8,375.3L584.3,374.4L585.9,373.5L587.3,372.5L588.8,371.6L590.2,370.6L591.6,369.5L593.0,368.5L594.3,367.4L595.7,366.3L597.0,365.2L598.2,364.0L599.5,362.9L600.7,361.7L601.9,360.5L603.1,359.2L604.3,358.0L605.4,356.7L606.6,355.4L607.7,354.1L608.8,352.8L609.8,351.4L610.9,350.1L611.9,348.7L612.9,347.3L613.9,345.9L614.9,344.4L615.8,343.0L616.8,341.5L617.7,340.1L618.6,338.6L619.5,337.1L620.4,335.6L621.2,334.0L622.1,332.5L622.9,330.9L623.7,329.4L624.5,327.8L625.3,326.2L626.1,324.7L626.8,323.1L627.6,321.5L628.3,319.9L629.1,318.2L629.8,316.6L630.5,315.0L631.2,313.3L631.9,311.7L632.6,310.1L633.2,308.4L633.9,306.8L634.6,305.1L635.2,303.4L635.9,301.8L636.5,300.1L637.1,298.5L637.7,296.8L638.4,295.1L639.0,293.5L639.6,291.8L640.2,290.1L640.8,288.5L641.4,286.8L641.9,285.1L642.5,283.5L643.1,281.8L643.7,280.2L644.2,278.5L644.8,276.8L645.3,275.2L645.9,273.5L646.4,271.8L647.0,270.2L647.5,268.5L648.1,266.8L648.6,265.2L649.1,263.5L649.7,261.8L650.2,260.2L650.7,258.5L651.2,256.8L651.7,255.2L652.2,253.5L652.8,251.8L653.3,250.2L653.8,248.5L654.3,246.8L654.8,245.2L655.3,243.5L655.8,241.8L656.2,240.2L656.7,238.5L657.2,236.8L657.7,235.1L658.2,233.5L658.7,231.8L659.2,230.1L659.7,228.5L660.2,226.8L660.6,225.1L661.1,223.5L661.6,221.8L662.1,220.1L662.6,218.5L663.0,216.8L663.5,215.1L664.0,213.4L664.5,211.8L665.0,210.1L665.5,208.4L665.9,206.8L666.4,205.1L666.9,203.4L667.4,201.8L667.9,200.1L668.4,198.4L668.9,196.7L669.4,195.1L669.9,193.4L670.3,191.7L670.8,190.1L671.3,188.4L671.8,186.7L672.3,185.1L672.9,183.4L673.4,181.7L673.9,180.0L674.4,178.4L674.9,176.7L675.4,175.0L675.9,173.4L676.5,171.7L677.0,170.0L677.5,168.3L678.1,166.7L678.6,165.0L679.1,163.3L679.7,161.6L680.2,160.0L680.8,158.3L681.4,156.6L681.9,155.0L682.5,153.3L683.1,151.6L683.6,149.9L684.2,148.3L684.8,146.6L685.4,144.9L686.0,143.3L686.6,141.6L687.2,139.9L687.9,138.3L688.5,136.6L689.1,135.0L689.8,133.3L690.4,131.7L691.1,130.0L691.7,128.4L692.4,126.7L693.1,125.1L693.8,123.5L694.5,121.8L695.2,120.2L695.9,118.6L696.7,117.0L697.4,115.3L698.2,113.7L698.9,112.1L699.7,110.5L700.5,108.9L701.3,107.4L702.1,105.8L702.9,104.2L703.8,102.6L704.6,101.1L705.5,99.5L706.4,98.0L707.3,96.5L708.2,95.0L709.1,93.5L710.0,92.0L711.0,90.5L712.0,89.1L712.9,87.6L713.9,86.2L714.9,84.8L716.0,83.4L717.0,82.0L718.1,80.7L719.2,79.3L720.3,78.0L721.4,76.7L722.5,75.5L723.7,74.2L724.9,73.0L726.1,71.8L727.3,70.6L728.5,69.4L729.8,68.3L731.1,67.2L732.4,66.1L733.7,65.1L735.1,64.1L736.4,63.1L737.8,62.1L739.2,61.2L740.7,60.3L742.1,59.4L743.6,58.6L745.1,57.8L746.6,57.0L748.1,56.2L749.6,55.5L751.2,54.8L752.8,54.1L754.4,53.4L756.0,52.8L757.6,52.2L759.2,51.7L760.9,51.1L762.5,50.6L764.2,50.1L765.9,49.7L767.6,49.3L769.3,48.9L771.0,48.5L772.7,48.1L774.5,47.8L776.2,47.6L778.0,47.3L779.7,47.1L781.5,46.9L783.3,46.7L785.1,46.5L786.9,46.4L788.7,46.3L790.5,46.3L792.3,46.2L794.1,46.2L795.9,46.2L797.7,46.2L799.6,46.2L801.4,46.2L803.2,46.2L805.0,46.2L806.9,46.2L808.7,46.2L810.5,46.2L812.4,46.2L814.2,46.2L816.0,46.2" fill="none" stroke="#b40000" stroke-width="3.2" stroke-linejoin="round" clip-path="url(#c2)"/>
<path d="M568.0,384.1L569.6,383.9L571.3,383.8L573.0,383.6L574.7,383.5L576.4,383.3L578.2,383.1L580.0,382.9L581.8,382.6L583.6,382.3L585.4,382.0L587.3,381.7L589.1,381.4L590.9,381.0L592.7,380.6L594.5,380.1L596.2,379.6L598.0,379.1L599.7,378.5L601.4,377.8L603.0,377.2L604.7,376.4L606.2,375.6L607.8,374.8L609.3,373.9L610.7,373.0L612.1,372.0L613.5,371.0L614.8,369.9L616.2,368.8L617.4,367.7L618.7,366.5L619.9,365.3L621.1,364.0L622.2,362.8L623.3,361.4L624.4,360.1L625.5,358.7L626.5,357.3L627.6,355.9L628.6,354.5L629.5,353.0L630.5,351.5L631.4,350.0L632.4,348.5L633.3,347.0L634.2,345.4L635.0,343.9L635.9,342.3L636.8,340.8L637.6,339.2L638.4,337.6L639.3,336.0L640.1,334.5L640.9,332.9L641.7,331.3L642.5,329.7L643.2,328.1L644.0,326.6L644.8,325.0L645.5,323.4L646.3,321.8L647.0,320.2L647.7,318.6L648.5,317.0L649.2,315.4L649.9,313.8L650.6,312.2L651.3,310.6L652.0,309.0L652.7,307.3L653.3,305.7L654.0,304.1L654.7,302.5L655.3,300.9L656.0,299.2L656.6,297.6L657.2,296.0L657.9,294.4L658.5,292.7L659.1,291.1L659.7,289.5L660.3,287.8L660.9,286.2L661.5,284.6L662.1,282.9L662.7,281.3L663.3,279.6L663.9,278.0L664.4,276.3L665.0,274.7L665.6,273.0L666.1,271.4L666.7,269.7L667.2,268.1L667.8,266.4L668.3,264.8L668.9,263.1L669.4,261.5L669.9,259.8L670.5,258.1L671.0,256.5L671.5,254.8L672.0,253.1L672.5,251.5L673.1,249.8L673.6,248.1L674.1,246.5L674.6,244.8L675.1,243.1L675.6,241.4L676.1,239.8L676.6,238.1L677.1,236.4L677.6,234.7L678.1,233.1L678.6,231.4L679.1,229.7L679.6,228.0L680.1,226.3L680.6,224.7L681.1,223.0L681.6,221.3L682.0,219.6L682.5,217.9L683.0,216.2L683.5,214.5L684.0,212.8L684.5,211.2L685.0,209.5L685.5,207.8L686.0,206.1L686.5,204.4L686.9,202.7L687.4,201.0L687.9,199.3L688.4,197.6L688.9,195.9L689.4,194.2L689.9,192.5L690.4,190.8L690.9,189.1L691.4,187.4L691.9,185.7L692.5,184.0L693.0,182.3L693.5,180.6L694.0,178.9L694.5,177.2L695.0,175.5L695.6,173.8L696.1,172.1L696.6,170.5L697.2,168.8L697.7,167.1L698.2,165.4L698.8,163.7L699.3,162.0L699.9,160.3L700.4,158.6L701.0,156.9L701.6,155.2L702.1,153.5L702.7,151.8L703.3,150.1L703.9,148.4L704.5,146.7L705.1,145.0L705.7,143.3L706.3,141.6L706.9,140.0L707.5,138.3L708.2,136.6L708.8,135.0L709.5,133.3L710.1,131.6L710.8,130.0L711.5,128.3L712.1,126.7L712.8,125.1L713.5,123.4L714.2,121.8L715.0,120.2L715.7,118.6L716.4,117.0L717.2,115.4L717.9,113.8L718.7,112.2L719.5,110.6L720.3,109.1L721.1,107.5L721.9,106.0L722.8,104.4L723.6,102.9L724.5,101.4L725.3,99.9L726.2,98.4L727.1,96.9L728.0,95.4L728.9,93.9L729.9,92.5L730.8,91.0L731.8,89.6L732.8,88.2L733.8,86.7L734.8,85.3L735.8,84.0L736.8,82.6L737.9,81.2L739.0,79.9L740.1,78.5L741.2,77.2L742.3,75.9L743.4,74.6L744.6,73.3L745.8,72.1L747.0,70.8L748.2,69.6L749.4,68.4L750.6,67.2L751.9,66.0L753.2,64.8L754.5,63.7L755.8,62.5L757.2,61.4L758.5,60.4L759.9,59.3L761.3,58.3L762.7,57.3L764.2,56.3L765.7,55.4L767.1,54.5L768.7,53.7L770.2,52.9L771.7,52.1L773.3,51.4L774.9,50.7L776.5,50.1L778.2,49.6L779.8,49.0L781.5,48.6L783.2,48.2L784.9,47.9L786.7,47.6L788.5,47.4L790.3,47.2L792.1,47.1L793.9,47.0L795.7,47.0L797.5,47.0L799.4,47.0L801.2,47.0L803.1,47.0L804.9,47.0L806.7,47.0L808.6,47.0L810.4,47.0L812.2,47.0L814.0,47.0L815.7,47.0" fill="none" stroke="#14b4e1" stroke-width="3.2" stroke-linejoin="round" clip-path="url(#c2)"/>
<path d="M568.2,385.3L569.8,385.1L571.4,384.9L573.1,384.7L574.7,384.5L576.4,384.3L578.2,384.2L579.9,384.1L581.6,384.0L583.4,383.9L585.2,383.9L587.0,383.8L588.8,383.8L590.7,383.7L592.5,383.7L594.4,383.6L596.3,383.5L598.1,383.5L600.0,383.4L601.9,383.3L603.9,383.2L605.8,383.1L607.7,383.0L609.6,382.8L611.5,382.6L613.3,382.4L615.2,382.1L617.1,381.8L618.9,381.4L620.7,381.0L622.4,380.6L624.2,380.1L625.9,379.5L627.5,378.9L629.1,378.2L630.7,377.4L632.2,376.6L633.7,375.7L635.1,374.8L636.5,373.8L637.9,372.7L639.2,371.6L640.5,370.5L641.7,369.3L642.9,368.1L644.1,366.8L645.3,365.5L646.4,364.2L647.5,362.8L648.6,361.4L649.7,360.0L650.7,358.6L651.7,357.1L652.7,355.6L653.7,354.1L654.7,352.6L655.6,351.1L656.5,349.6L657.4,348.1L658.3,346.5L659.2,345.0L660.1,343.4L661.0,341.9L661.8,340.3L662.7,338.8L663.5,337.2L664.3,335.6L665.1,334.0L665.9,332.4L666.6,330.8L667.4,329.2L668.2,327.6L668.9,326.0L669.6,324.4L670.4,322.8L671.1,321.2L671.8,319.5L672.5,317.9L673.1,316.3L673.8,314.6L674.5,313.0L675.1,311.3L675.7,309.7L676.4,308.0L677.0,306.3L677.6,304.7L678.2,303.0L678.8,301.3L679.4,299.7L680.0,298.0L680.6,296.3L681.1,294.6L681.7,292.9L682.3,291.2L682.8,289.5L683.3,287.8L683.9,286.1L684.4,284.4L684.9,282.7L685.5,281.0L686.0,279.2L686.5,277.5L687.0,275.8L687.5,274.1L688.0,272.4L688.4,270.6L688.9,268.9L689.4,267.2L689.9,265.4L690.4,263.7L690.8,262.0L691.3,260.2L691.8,258.5L692.2,256.7L692.7,255.0L693.1,253.3L693.6,251.5L694.0,249.8L694.5,248.0L694.9,246.3L695.4,244.5L695.8,242.8L696.2,241.0L696.7,239.3L697.1,237.5L697.6,235.8L698.0,234.0L698.4,232.3L698.9,230.5L699.3,228.8L699.8,227.0L700.2,225.3L700.7,223.5L701.1,221.8L701.5,220.0L702.0,218.3L702.4,216.5L702.9,214.8L703.3,213.1L703.8,211.3L704.2,209.6L704.7,207.8L705.2,206.1L705.6,204.4L706.1,202.6L706.6,200.9L707.1,199.1L707.5,197.4L708.0,195.7L708.5,194.0L709.0,192.2L709.5,190.5L710.0,188.8L710.5,187.1L711.0,185.3L711.5,183.6L712.0,181.9L712.6,180.2L713.1,178.5L713.6,176.8L714.2,175.1L714.7,173.4L715.3,171.7L715.8,170.0L716.4,168.3L716.9,166.6L717.5,164.9L718.1,163.2L718.6,161.5L719.2,159.8L719.8,158.1L720.4,156.4L721.0,154.7L721.6,153.1L722.2,151.4L722.8,149.7L723.4,148.0L724.0,146.4L724.7,144.7L725.3,143.0L725.9,141.4L726.6,139.7L727.2,138.0L727.9,136.4L728.6,134.7L729.2,133.1L729.9,131.4L730.6,129.8L731.3,128.1L732.0,126.5L732.7,124.8L733.4,123.2L734.1,121.6L734.8,119.9L735.5,118.3L736.2,116.7L737.0,115.1L737.7,113.4L738.5,111.8L739.2,110.2L740.0,108.6L740.8,107.0L741.5,105.4L742.3,103.7L743.1,102.1L743.9,100.5L744.7,98.9L745.5,97.3L746.4,95.8L747.2,94.2L748.0,92.6L748.9,91.0L749.7,89.4L750.6,87.8L751.4,86.2L752.3,84.7L753.2,83.1L754.1,81.5L755.0,80.0L755.9,78.4L756.8,76.9L757.7,75.3L758.7,73.8L759.6,72.3L760.6,70.8L761.6,69.4L762.7,68.0L763.7,66.6L764.8,65.2L766.0,63.9L767.2,62.6L768.4,61.4L769.6,60.2L770.9,59.1L772.3,58.0L773.6,57.0L775.1,56.0L776.6,55.1L778.1,54.3L779.7,53.5L781.3,52.8L783.0,52.1L784.7,51.5L786.5,51.0L788.3,50.5L790.1,50.1L791.9,49.7L793.7,49.4L795.6,49.1L797.5,48.9L799.3,48.7L801.2,48.5L803.1,48.4L804.9,48.3L806.8,48.2L808.6,48.2L810.4,48.2L812.2,48.2L814.0,48.2L815.7,48.2" fill="none" stroke="#1cc83c" stroke-width="3.2" stroke-linejoin="round" clip-path="url(#c2)"/>
<path d="M84.20,47.2v3.6M84.20,385.6v-3.6M96.64,47.2v3.6M96.64,385.6v-3.6M109.08,47.2v3.6M109.08,385.6v-3.6M121.52,47.2v3.6M121.52,385.6v-3.6M133.97,47.2v7.2M133.97,385.6v-7.2M146.41,47.2v3.6M146.41,385.6v-3.6M158.85,47.2v3.6M158.85,385.6v-3.6M171.29,47.2v3.6M171.29,385.6v-3.6M183.74,47.2v3.6M183.74,385.6v-3.6M196.18,47.2v7.2M196.18,385.6v-7.2M208.62,47.2v3.6M208.62,385.6v-3.6M221.06,47.2v3.6M221.06,385.6v-3.6M233.50,47.2v3.6M233.50,385.6v-3.6M245.95,47.2v3.6M245.95,385.6v-3.6M258.39,47.2v7.2M258.39,385.6v-7.2M270.83,47.2v3.6M270.83,385.6v-3.6M283.27,47.2v3.6M283.27,385.6v-3.6M295.72,47.2v3.6M295.72,385.6v-3.6M308.16,47.2v3.6M308.16,385.6v-3.6M331.80,47.2v3.6M331.80,385.6v-3.6M344.24,47.2v3.6M344.24,385.6v-3.6M356.68,47.2v3.6M356.68,385.6v-3.6M369.12,47.2v3.6M369.12,385.6v-3.6M381.57,47.2v7.2M381.57,385.6v-7.2M394.01,47.2v3.6M394.01,385.6v-3.6M406.45,47.2v3.6M406.45,385.6v-3.6M418.89,47.2v3.6M418.89,385.6v-3.6M431.34,47.2v3.6M431.34,385.6v-3.6M443.78,47.2v7.2M443.78,385.6v-7.2M456.22,47.2v3.6M456.22,385.6v-3.6M468.66,47.2v3.6M468.66,385.6v-3.6M481.10,47.2v3.6M481.10,385.6v-3.6M493.55,47.2v3.6M493.55,385.6v-3.6M505.99,47.2v7.2M505.99,385.6v-7.2M518.43,47.2v3.6M518.43,385.6v-3.6M530.87,47.2v3.6M530.87,385.6v-3.6M543.32,47.2v3.6M543.32,385.6v-3.6M555.76,47.2v3.6M555.76,385.6v-3.6M579.40,47.2v3.6M579.40,385.6v-3.6M591.84,47.2v3.6M591.84,385.6v-3.6M604.28,47.2v3.6M604.28,385.6v-3.6M616.72,47.2v3.6M616.72,385.6v-3.6M629.17,47.2v7.2M629.17,385.6v-7.2M641.61,47.2v3.6M641.61,385.6v-3.6M654.05,47.2v3.6M654.05,385.6v-3.6M666.49,47.2v3.6M666.49,385.6v-3.6M678.94,47.2v3.6M678.94,385.6v-3.6M691.38,47.2v7.2M691.38,385.6v-7.2M703.82,47.2v3.6M703.82,385.6v-3.6M716.26,47.2v3.6M716.26,385.6v-3.6M728.70,47.2v3.6M728.70,385.6v-3.6M741.15,47.2v3.6M741.15,385.6v-3.6M753.59,47.2v7.2M753.59,385.6v-7.2M766.03,47.2v3.6M766.03,385.6v-3.6M778.47,47.2v3.6M778.47,385.6v-3.6M790.92,47.2v3.6M790.92,385.6v-3.6M803.36,47.2v3.6M803.36,385.6v-3.6M73.0,368.68h2.65M317.95000000000005,368.68h5.3M565.5500000000001,368.68h5.3M815.8000000000001,368.68h-2.65M73.0,351.76h2.65M317.95000000000005,351.76h5.3M565.5500000000001,351.76h5.3M815.8000000000001,351.76h-2.65M73.0,334.84h2.65M317.95000000000005,334.84h5.3M565.5500000000001,334.84h5.3M815.8000000000001,334.84h-2.65M73.0,317.92h4.9M315.70000000000005,317.92h9.8M563.3000000000001,317.92h9.8M815.8000000000001,317.92h-4.9M73.0,301.00h2.65M317.95000000000005,301.00h5.3M565.5500000000001,301.00h5.3M815.8000000000001,301.00h-2.65M73.0,284.08h2.65M317.95000000000005,284.08h5.3M565.5500000000001,284.08h5.3M815.8000000000001,284.08h-2.65M73.0,267.16h2.65M317.95000000000005,267.16h5.3M565.5500000000001,267.16h5.3M815.8000000000001,267.16h-2.65M73.0,250.24h4.9M315.70000000000005,250.24h9.8M563.3000000000001,250.24h9.8M815.8000000000001,250.24h-4.9M73.0,233.32h2.65M317.95000000000005,233.32h5.3M565.5500000000001,233.32h5.3M815.8000000000001,233.32h-2.65M73.0,216.40h2.65M317.95000000000005,216.40h5.3M565.5500000000001,216.40h5.3M815.8000000000001,216.40h-2.65M73.0,199.48h2.65M317.95000000000005,199.48h5.3M565.5500000000001,199.48h5.3M815.8000000000001,199.48h-2.65M73.0,182.56h4.9M315.70000000000005,182.56h9.8M563.3000000000001,182.56h9.8M815.8000000000001,182.56h-4.9M73.0,165.64h2.65M317.95000000000005,165.64h5.3M565.5500000000001,165.64h5.3M815.8000000000001,165.64h-2.65M73.0,148.72h2.65M317.95000000000005,148.72h5.3M565.5500000000001,148.72h5.3M815.8000000000001,148.72h-2.65M73.0,131.80h2.65M317.95000000000005,131.80h5.3M565.5500000000001,131.80h5.3M815.8000000000001,131.80h-2.65M73.0,114.88h4.9M315.70000000000005,114.88h9.8M563.3000000000001,114.88h9.8M815.8000000000001,114.88h-4.9M73.0,97.96h2.65M317.95000000000005,97.96h5.3M565.5500000000001,97.96h5.3M815.8000000000001,97.96h-2.65M73.0,81.04h2.65M317.95000000000005,81.04h5.3M565.5500000000001,81.04h5.3M815.8000000000001,81.04h-2.65M73.0,64.12h2.65M317.95000000000005,64.12h5.3M565.5500000000001,64.12h5.3M815.8000000000001,64.12h-2.65" stroke="#000" stroke-width="2.2" fill="none"/>
<rect x="73.0" y="47.2" width="742.8000000000001" height="338.40000000000003" fill="none" stroke="#000" stroke-width="2.3"/>
<line x1="320.6" y1="47.2" x2="320.6" y2="385.6" stroke="#000" stroke-width="2.3"/>
<line x1="568.2" y1="47.2" x2="568.2" y2="385.6" stroke="#000" stroke-width="2.3"/>
<text x="97.9" y="13.9" font-size="15.5" fill="#000" text-anchor="start" class="b" textLength="196.7" lengthAdjust="spacingAndGlyphs" stroke="#000" stroke-width="0.35">fiducial WMAP7 Galaxies</text>
<text x="139.3" y="37.4" font-size="15.5" fill="#000" text-anchor="start" class="b" textLength="113.3" lengthAdjust="spacingAndGlyphs" stroke="#000" stroke-width="0.35">(all satellites)</text>
<text x="355.9" y="13.9" font-size="15.5" fill="#000" text-anchor="start" class="b" textLength="175.0" lengthAdjust="spacingAndGlyphs" stroke="#000" stroke-width="0.35">w/variations in mass</text>
<text x="374.7" y="37.4" font-size="15.5" fill="#000" text-anchor="start" class="b" textLength="137.3" lengthAdjust="spacingAndGlyphs" stroke="#000" stroke-width="0.35">accretion history</text>
<text x="593.6" y="13.9" font-size="15.5" fill="#000" text-anchor="start" class="b" textLength="194.6" lengthAdjust="spacingAndGlyphs" stroke="#000" stroke-width="0.35">w/o 3 largest satellites</text>
<text x="625.7" y="37.4" font-size="15.5" fill="#000" text-anchor="start" class="b" textLength="130.1" lengthAdjust="spacingAndGlyphs" stroke="#000" stroke-width="0.35">(LMC/SMC/Sgr)</text>
<text x="34.6" y="61.8" font-size="20.6" fill="#000" text-anchor="start" textLength="30.8" lengthAdjust="spacingAndGlyphs" stroke="#000" stroke-width="0.3">1.0</text>
<text x="34.6" y="123.3" font-size="20.6" fill="#000" text-anchor="start" textLength="30.8" lengthAdjust="spacingAndGlyphs" stroke="#000" stroke-width="0.3">0.8</text>
<text x="34.6" y="190.8" font-size="20.6" fill="#000" text-anchor="start" textLength="30.8" lengthAdjust="spacingAndGlyphs" stroke="#000" stroke-width="0.3">0.6</text>
<text x="34.6" y="258.2" font-size="20.6" fill="#000" text-anchor="start" textLength="30.8" lengthAdjust="spacingAndGlyphs" stroke="#000" stroke-width="0.3">0.4</text>
<text x="34.6" y="326.3" font-size="20.6" fill="#000" text-anchor="start" textLength="30.8" lengthAdjust="spacingAndGlyphs" stroke="#000" stroke-width="0.3">0.2</text>
<text x="34.6" y="386.4" font-size="20.6" fill="#000" text-anchor="start" textLength="30.8" lengthAdjust="spacingAndGlyphs" stroke="#000" stroke-width="0.3">0.0</text>
<text x="117.6" y="415.1" font-size="20.6" fill="#000" text-anchor="start" textLength="30.8" lengthAdjust="spacingAndGlyphs" stroke="#000" stroke-width="0.3">0.5</text>
<text x="179.8" y="415.1" font-size="20.6" fill="#000" text-anchor="start" textLength="30.8" lengthAdjust="spacingAndGlyphs" stroke="#000" stroke-width="0.3">1.0</text>
<text x="242.0" y="415.1" font-size="20.6" fill="#000" text-anchor="start" textLength="30.8" lengthAdjust="spacingAndGlyphs" stroke="#000" stroke-width="0.3">1.5</text>
<text x="365.2" y="415.1" font-size="20.6" fill="#000" text-anchor="start" textLength="30.8" lengthAdjust="spacingAndGlyphs" stroke="#000" stroke-width="0.3">0.5</text>
<text x="427.4" y="415.1" font-size="20.6" fill="#000" text-anchor="start" textLength="30.8" lengthAdjust="spacingAndGlyphs" stroke="#000" stroke-width="0.3">1.0</text>
<text x="489.6" y="415.1" font-size="20.6" fill="#000" text-anchor="start" textLength="30.8" lengthAdjust="spacingAndGlyphs" stroke="#000" stroke-width="0.3">1.5</text>
<text x="612.8" y="415.1" font-size="20.6" fill="#000" text-anchor="start" textLength="30.8" lengthAdjust="spacingAndGlyphs" stroke="#000" stroke-width="0.3">0.5</text>
<text x="675.0" y="415.1" font-size="20.6" fill="#000" text-anchor="start" textLength="30.8" lengthAdjust="spacingAndGlyphs" stroke="#000" stroke-width="0.3">1.0</text>
<text x="737.2" y="415.1" font-size="20.6" fill="#000" text-anchor="start" textLength="30.8" lengthAdjust="spacingAndGlyphs" stroke="#000" stroke-width="0.3">1.5</text>
<text x="799.4" y="415.1" font-size="20.6" fill="#000" text-anchor="start" textLength="30.8" lengthAdjust="spacingAndGlyphs" stroke="#000" stroke-width="0.3">2.0</text>
<text x="304.6" y="415.1" font-size="20.6" fill="#000" text-anchor="start" textLength="30.8" lengthAdjust="spacingAndGlyphs" stroke="#000" stroke-width="0.3">2.0</text>
<text x="552.1" y="415.1" font-size="20.6" fill="#000" text-anchor="start" textLength="30.8" lengthAdjust="spacingAndGlyphs" stroke="#000" stroke-width="0.3">2.0</text>
<text x="177.8" y="440.8" font-size="24" class="s" fill="#000" stroke="#000" stroke-width="0.7" textLength="12.6" lengthAdjust="spacingAndGlyphs">&#915;</text>
<text x="190.1" y="444.8" font-size="11.6" fill="#000" text-anchor="start" class="b" textLength="25.6" lengthAdjust="spacingAndGlyphs" stroke="#000" stroke-width="0.35">max</text>
<text x="425.4" y="440.8" font-size="24" class="s" fill="#000" stroke="#000" stroke-width="0.7" textLength="12.6" lengthAdjust="spacingAndGlyphs">&#915;</text>
<text x="437.7" y="444.8" font-size="11.6" fill="#000" text-anchor="start" class="b" textLength="25.6" lengthAdjust="spacingAndGlyphs" stroke="#000" stroke-width="0.35">max</text>
<text x="673.0" y="440.8" font-size="24" class="s" fill="#000" stroke="#000" stroke-width="0.7" textLength="12.6" lengthAdjust="spacingAndGlyphs">&#915;</text>
<text x="685.3" y="444.8" font-size="11.6" fill="#000" text-anchor="start" class="b" textLength="25.6" lengthAdjust="spacingAndGlyphs" stroke="#000" stroke-width="0.35">max</text>
<g transform="translate(17.5,0) rotate(-90)">
<text x="-323.5" y="-0.4" font-size="20.4" fill="#000" text-anchor="start" textLength="106.5" lengthAdjust="spacingAndGlyphs" stroke="#000" stroke-width="0.3">Cumulative</text>
<text x="-203.8" y="-0.4" font-size="20.4" fill="#000" text-anchor="start" textLength="38.0" lengthAdjust="spacingAndGlyphs" stroke="#000" stroke-width="0.3">PDF</text>
<text x="-156.4" y="0.2" font-size="24" class="s" fill="#000" stroke="#000" stroke-width="0.7" textLength="12.4" lengthAdjust="spacingAndGlyphs">&#915;</text>
<text x="-145.2" y="4.3" font-size="11.6" fill="#000" text-anchor="start" class="b" textLength="25.6" lengthAdjust="spacingAndGlyphs" stroke="#000" stroke-width="0.35">max</text>
</g>
<path d="M1,158.6Q11.3,168.4 21.6,158.6M1,117.6Q11.3,107.6 21.6,117.6" fill="none" stroke="#000" stroke-width="2" stroke-linecap="round"/>
<text x="107.6" y="82.0" font-size="14.5" fill="#000" text-anchor="start" class="b" textLength="64.6" lengthAdjust="spacingAndGlyphs" stroke="#000" stroke-width="0.35">observed</text>
<text x="115.7" y="97.0" font-size="14.5" fill="#000" text-anchor="start" class="b" textLength="47.4" lengthAdjust="spacingAndGlyphs" stroke="#000" stroke-width="0.35">dwarfs</text>
<line x1="80.6" y1="125.1" x2="111.5" y2="125.1" stroke="#b40000" stroke-width="3"/>
<text x="117.0" y="130.1" font-size="16.5" fill="#b40000" text-anchor="start" class="b" textLength="19.0" lengthAdjust="spacingAndGlyphs" stroke="#b40000" stroke-width="0.35">10</text>
<text x="137.4" y="123.9" font-size="11" fill="#b40000" text-anchor="start" class="b" textLength="21.8" lengthAdjust="spacingAndGlyphs" stroke="#b40000" stroke-width="0.35">11.8</text>
<text x="167.8" y="130.1" font-size="16.5" fill="#b40000" text-anchor="start" class="b" stroke="#b40000" stroke-width="0.35">h</text>
<text x="177.8" y="123.9" font-size="11" fill="#b40000" text-anchor="start" class="b" textLength="13.8" lengthAdjust="spacingAndGlyphs" stroke="#b40000" stroke-width="0.35">&#8722;1</text>
<text x="200.7" y="130.3" font-size="15.2" fill="#b40000" text-anchor="start" class="b" stroke="#b40000" stroke-width="0.3">M</text>
<circle cx="217.95" cy="130.9" r="4.8" fill="#b40000"/>
<circle cx="217.95" cy="130.9" r="1.7" fill="none" stroke="#fff" stroke-opacity="0.22" stroke-width="1"/>
<line x1="80.6" y1="158.9" x2="111.5" y2="158.9" stroke="#14b4e1" stroke-width="3"/>
<text x="117.0" y="163.9" font-size="16.5" fill="#14b4e1" text-anchor="start" class="b" textLength="19.0" lengthAdjust="spacingAndGlyphs" stroke="#14b4e1" stroke-width="0.35">10</text>
<text x="137.4" y="157.7" font-size="11" fill="#14b4e1" text-anchor="start" class="b" textLength="21.8" lengthAdjust="spacingAndGlyphs" stroke="#14b4e1" stroke-width="0.35">12.0</text>
<text x="167.8" y="163.9" font-size="16.5" fill="#14b4e1" text-anchor="start" class="b" stroke="#14b4e1" stroke-width="0.35">h</text>
<text x="177.8" y="157.7" font-size="11" fill="#14b4e1" text-anchor="start" class="b" textLength="13.8" lengthAdjust="spacingAndGlyphs" stroke="#14b4e1" stroke-width="0.35">&#8722;1</text>
<text x="200.7" y="164.1" font-size="15.2" fill="#14b4e1" text-anchor="start" class="b" stroke="#14b4e1" stroke-width="0.3">M</text>
<circle cx="217.95" cy="164.7" r="4.8" fill="#14b4e1"/>
<circle cx="217.95" cy="164.7" r="1.7" fill="none" stroke="#fff" stroke-opacity="0.22" stroke-width="1"/>
<line x1="80.6" y1="192.5" x2="111.5" y2="192.5" stroke="#1cc83c" stroke-width="3"/>
<text x="117.0" y="197.5" font-size="16.5" fill="#1cc83c" text-anchor="start" class="b" textLength="19.0" lengthAdjust="spacingAndGlyphs" stroke="#1cc83c" stroke-width="0.35">10</text>
<text x="137.4" y="191.3" font-size="11" fill="#1cc83c" text-anchor="start" class="b" textLength="21.8" lengthAdjust="spacingAndGlyphs" stroke="#1cc83c" stroke-width="0.35">12.2</text>
<text x="167.8" y="197.5" font-size="16.5" fill="#1cc83c" text-anchor="start" class="b" stroke="#1cc83c" stroke-width="0.35">h</text>
<text x="177.8" y="191.3" font-size="11" fill="#1cc83c" text-anchor="start" class="b" textLength="13.8" lengthAdjust="spacingAndGlyphs" stroke="#1cc83c" stroke-width="0.35">&#8722;1</text>
<text x="200.7" y="197.7" font-size="15.2" fill="#1cc83c" text-anchor="start" class="b" stroke="#1cc83c" stroke-width="0.3">M</text>
<circle cx="217.95" cy="198.3" r="4.8" fill="#1cc83c"/>
<circle cx="217.95" cy="198.3" r="1.7" fill="none" stroke="#fff" stroke-opacity="0.22" stroke-width="1"/>
<text x="106.0" y="274.0" font-size="13.8" fill="#000" text-anchor="start" class="b" textLength="68.0" lengthAdjust="spacingAndGlyphs" stroke="#000" stroke-width="0.35">Milky Way</text>
<text x="101.0" y="290.2" font-size="13.8" fill="#000" text-anchor="start" class="b" textLength="78.0" lengthAdjust="spacingAndGlyphs" stroke="#000" stroke-width="0.35">probability:</text>
<text x="125.0" y="312.0" font-size="15.5" fill="#b40000" text-anchor="start" class="b" textLength="30.0" lengthAdjust="spacingAndGlyphs" stroke="#b40000" stroke-width="0.35">20%</text>
<text x="126.5" y="346.0" font-size="15.5" fill="#1cc83c" text-anchor="start" class="b" textLength="28.5" lengthAdjust="spacingAndGlyphs" stroke="#1cc83c" stroke-width="0.35">10%</text>
<line x1="328.1" y1="115.8" x2="378.2" y2="115.8" stroke="#b40000" stroke-width="1.8" stroke-dasharray="10 10"/>
<line x1="328.1" y1="119.1" x2="378.2" y2="119.1" stroke="#14b4e1" stroke-width="1.8" stroke-dasharray="10 10"/>
<line x1="328.1" y1="122.3" x2="378.2" y2="122.3" stroke="#1cc83c" stroke-width="1.8" stroke-dasharray="10 10"/>
<line x1="328.1" y1="149.5" x2="378.2" y2="149.5" stroke="#b40000" stroke-width="1.8" stroke-dasharray="20 10"/>
<line x1="328.1" y1="152.8" x2="378.2" y2="152.8" stroke="#14b4e1" stroke-width="1.8" stroke-dasharray="20 10"/>
<line x1="328.1" y1="156.0" x2="378.2" y2="156.0" stroke="#1cc83c" stroke-width="1.8" stroke-dasharray="20 10"/>
<text x="383.2" y="121.8" font-size="12.0" fill="#000" text-anchor="start" class="b" textLength="82.1" lengthAdjust="spacingAndGlyphs" stroke="#000" stroke-width="0.35">no 1:10 sats</text>
<text x="334.1" y="135.3" font-size="12.0" fill="#000" text-anchor="start" class="b" textLength="129.6" lengthAdjust="spacingAndGlyphs" stroke="#000" stroke-width="0.35">from 1.0 &lt; z &lt; 0.2</text>
<text x="383.2" y="155.5" font-size="12.0" fill="#000" text-anchor="start" class="b" textLength="82.1" lengthAdjust="spacingAndGlyphs" stroke="#000" stroke-width="0.35">no 1:10 sats</text>
<text x="334.1" y="169.0" font-size="12.0" fill="#000" text-anchor="start" class="b" textLength="129.6" lengthAdjust="spacingAndGlyphs" stroke="#000" stroke-width="0.35">from 2.0 &lt; z &lt; 0.0</text>
<text x="372.5" y="244.0" font-size="15.5" fill="#b40000" text-anchor="start" class="b" textLength="30.0" lengthAdjust="spacingAndGlyphs" stroke="#b40000" stroke-width="0.35">40%</text>
<text x="374.0" y="346.0" font-size="15.5" fill="#1cc83c" text-anchor="start" class="b" textLength="28.5" lengthAdjust="spacingAndGlyphs" stroke="#1cc83c" stroke-width="0.35">10%</text>
<text x="621.0" y="126.0" font-size="15.5" fill="#b40000" text-anchor="start" class="b" textLength="30.0" lengthAdjust="spacingAndGlyphs" stroke="#b40000" stroke-width="0.35">75%</text>
<text x="621.0" y="177.0" font-size="15.5" fill="#14b4e1" text-anchor="start" class="b" textLength="30.0" lengthAdjust="spacingAndGlyphs" stroke="#14b4e1" stroke-width="0.35">60%</text>
<text x="620.5" y="245.0" font-size="15.5" fill="#1cc83c" text-anchor="start" class="b" textLength="30.5" lengthAdjust="spacingAndGlyphs" stroke="#1cc83c" stroke-width="0.35">40%</text>
<text x="691.0" y="369.5" font-size="15.5" fill="#5cbe00" text-anchor="start" class="b" textLength="25.0" lengthAdjust="spacingAndGlyphs" stroke="#5cbe00" stroke-width="0.35">VL2</text>
<text x="740.0" y="369.5" font-size="15.5" fill="#e88400" text-anchor="start" class="b" textLength="62.5" lengthAdjust="spacingAndGlyphs" stroke="#e88400" stroke-width="0.35">Aquarius</text>
<g transform="translate(784.0,0) rotate(90)">
<text x="105.7" y="0.0" font-size="15.5" fill="#ffc285" text-anchor="start" class="b" textLength="47.2" lengthAdjust="spacingAndGlyphs" stroke="none">stacks</text>
<text x="160.3" y="0.0" font-size="15.5" fill="#ffc285" text-anchor="start" class="b" textLength="13.7" lengthAdjust="spacingAndGlyphs" stroke="none">of</text>
<text x="181.4" y="0.0" font-size="15.5" fill="#ffc285" text-anchor="start" class="b" textLength="19.2" lengthAdjust="spacingAndGlyphs" stroke="none">six</text>
<text x="206.6" y="0.0" font-size="15.5" fill="#ffc285" text-anchor="start" class="b" textLength="45.3" lengthAdjust="spacingAndGlyphs" stroke="none">halos:</text>
<text x="260.7" y="0.0" font-size="15.5" fill="#ffc285" text-anchor="start" class="b" textLength="20.6" lengthAdjust="spacingAndGlyphs" stroke="none">1&#963;</text>
<text x="286.8" y="0.0" font-size="15.5" fill="#ffc285" text-anchor="start" class="b" textLength="39.4" lengthAdjust="spacingAndGlyphs" stroke="none">range</text>
</g>
</svg></body></html>
